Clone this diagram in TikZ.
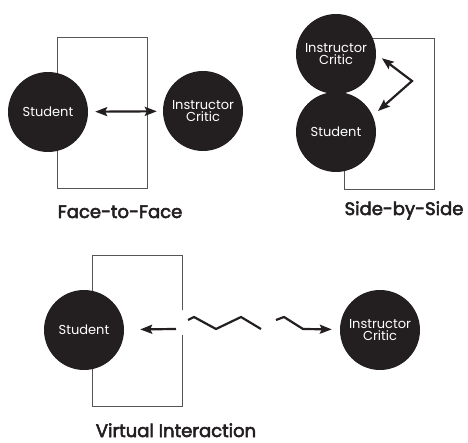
\documentclass[tikz,border=0pt]{standalone}
\usepackage{fontspec}
\setmainfont{Poppins}
\newfontfamily\captionfont{Poppins}[FakeBold=3]
\usetikzlibrary{arrows.meta}
\definecolor{ink}{HTML}{231F20}
\definecolor{wall}{HTML}{555555}
\begin{document}
\begin{tikzpicture}[x=1pt,y=-1pt]
		\tikzset{person/.style = {shape=circle,fill=ink,minimum size=80pt,inner sep=0pt,text=white,align=center,font=\fontsize{13}{15}\selectfont}}
		\tikzset{screen/.style = {draw=wall,line width=0.8pt}}
		\tikzset{talk/.style = {line width=2.2pt,draw=ink,>={Stealth[length=12pt,width=9pt,inset=2pt]}}}
		\tikzset{caption/.style = {text=ink,anchor=base,font=\fontsize{18}{20}\captionfont}}
		\useasboundingbox (0,0) rectangle (468,443);
		% face to face
		\draw[screen] (57,37) rectangle (147,188);
		\node[person] (studentA) at (48,112) {Student};
		\node[person] (criticA) at (203,111) {Instructor\\[-3pt]Critic};
		\path[<->,talk,shorten <=7pt,shorten >=6pt] (studentA) edge (criticA);
		\node[caption] (faceA) at (120,218) {Face-to-Face};
		% side by side
		\draw[screen] (344,38) rectangle (434,189);
		\node[person] (criticB) at (336,54) {Instructor\\[-3pt]Critic};
		\node[person] (studentB) at (336,132) {Student};
		\coordinate (bendB) at (412,81);
		\draw[<->,talk,shorten <=7pt,shorten >=7pt] (criticB.east) -- (bendB) -- (studentB.24);
		\node[caption] (sideB) at (404,215) {Side-by-Side};
		% virtual
		\draw[screen] (182,310) -- (182,255) -- (92,255) -- (92,406) -- (182,406) -- (182,335);
		\node[person] (studentC) at (84,330) {Student};
		\node[person] (criticC) at (380,330) {Instructor\\[-3pt]Critic};
		\coordinate (gapC) at (176,329);
		\draw[->,talk,shorten >=16pt] (gapC) -- (studentC);
		\draw[talk] (188,320) -- (194,317) -- (216,329) -- (241,317) -- (261,329);
		\coordinate (waveC) at (276,320);
		\draw[->,talk,shorten >=8pt] (waveC) -- (284,317) -- (303,329) -- (criticC);
		\node[caption] (virtualC) at (176,437) {Virtual Interaction};
	\end{tikzpicture}
\end{document}
